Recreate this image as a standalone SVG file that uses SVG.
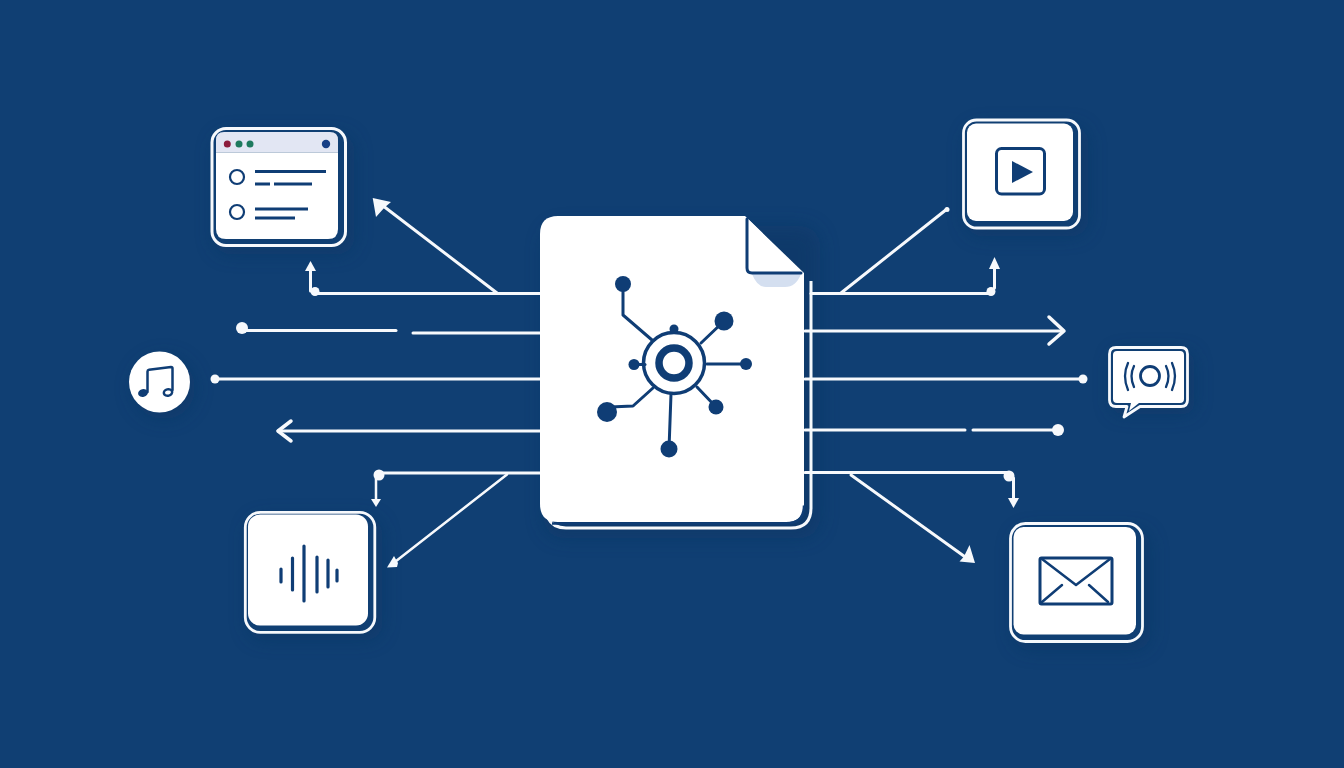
<svg xmlns="http://www.w3.org/2000/svg" width="1344" height="768" viewBox="0 0 1344 768">
<style>
.w{fill:none;stroke:#f7f9fc;stroke-width:3;stroke-linecap:round;stroke-linejoin:round}
.t{stroke-width:2.500}
.d{fill:#f7f9fc}
.edge{fill:none;stroke:#f7f9fc;stroke-width:3}
.n{fill:none;stroke:#0f3d75;stroke-width:3;stroke-linecap:round;stroke-linejoin:round}
.nf{fill:#0f3d75}
</style>
<defs>
<filter id="sh" x="-30%" y="-30%" width="160%" height="160%"><feGaussianBlur stdDeviation="9"/></filter>
</defs>
<rect id="bg" width="1344" height="768" fill="#103f73"/>
<g id="shadows" fill="#0c3562" opacity=".5" filter="url(#sh)">
<rect x="544" y="226" width="276" height="312" rx="20"/>
<rect x="214" y="134" width="140" height="120" rx="16"/>
<rect x="966" y="126" width="122" height="110" rx="16"/>
<rect x="248" y="518" width="134" height="122" rx="16"/>
<rect x="1014" y="530" width="136" height="120" rx="16"/>
<rect x="1112" y="352" width="82" height="62" rx="10"/>
<circle cx="164" cy="388" r="31"/>
</g>
<g id="connectors">
<path class="w" d="M540 293.500H316"/>
<path class="w" d="M314 291L310.500 291V270"/>
<path class="d" d="M310.500 261L316 271H305Z"/>
<circle class="d" cx="315" cy="291.500" r="4.500"/>
<path class="w" d="M497 293L378 202"/>
<path class="d" d="M372.700 198L391 202L384.500 207.500L376 217Z"/>
<path class="w" d="M245 330.500H396"/>
<circle class="d" cx="242" cy="328" r="6"/>
<path class="w" d="M413 333H540"/>
<path class="w" d="M215 379H540"/>
<circle class="d" cx="215" cy="379" r="4.500"/>
<path class="w" d="M278 431H540"/>
<path class="w" style="stroke-width:3.500" d="M291 421L278 431L291 441"/>
<path class="w" d="M380 473H540"/>
<circle class="d" cx="379" cy="475" r="5.500"/>
<path class="w t" d="M376 478V499"/>
<path class="d" d="M376 507L371 499H381Z"/>
<path class="w t" d="M507 474.500L391 565"/>
<path class="d" d="M387 567.500L394 556L398 563L397 567Z"/>
<path class="w" d="M811 293.500H990"/>
<circle class="d" cx="991" cy="291.500" r="4.500"/>
<path class="w" d="M994.500 288V268"/>
<path class="d" d="M994.500 257L1000 269H989Z"/>
<path class="w" d="M841 293L947 209"/>
<circle class="d" cx="947" cy="209.500" r="2.500"/>
<path class="w" d="M805 331H1063"/>
<path class="w" style="stroke-width:3.500" d="M1049 317L1064 331L1049 344"/>
<path class="w" d="M805 379H1083"/>
<circle class="d" cx="1083" cy="379" r="4.500"/>
<path class="w" d="M805 430H965"/>
<path class="w" d="M973 430H1055"/>
<circle class="d" cx="1058" cy="430" r="6"/>
<path class="w" d="M805 472.500H1008"/>
<circle class="d" cx="1009" cy="476" r="5.500"/>
<path class="w" d="M1013.500 478V499"/>
<path class="d" d="M1013.500 508L1008 498H1019Z"/>
<path class="w" d="M851 475L968 559"/>
<path class="d" d="M975 563L959.500 561.500L964 556.500L969.500 545Z"/>
</g>
<g id="document">
<path class="edge" d="M811 281V508Q811 528 791 528H566Q553 528 548 518"/>
<path d="M558 216H745L804 273V504Q804 522 786 522H558Q540 522 540 504V234Q540 216 558 216Z" fill="#fff"/>
<path d="M552 522H786Q804 522 804 504" fill="none" stroke="#0f3d75" stroke-width="2.500" transform="translate(0 1.500)"/>
<path d="M752 274H801Q796 287 785 287H766Q757 287 752 274Z" fill="#d4dff0"/>
<path d="M747 218L802 273H751Q747 273 747 269Z" fill="#fff"/>
<path d="M747 219V268Q747 273 752 273H801" fill="none" stroke="#0f3d75" stroke-width="3" stroke-linecap="round"/>
<g id="network">
<circle cx="674" cy="363" r="30.500" fill="none" stroke="#0f3d75" stroke-width="3.500"/>
<circle cx="674" cy="363" r="15" fill="none" stroke="#0f3d75" stroke-width="7.500"/>
<path class="n" d="M623 290V315L652 340"/>
<circle class="nf" cx="623" cy="284" r="8"/>
<path class="n" d="M701 343L722 323"/>
<circle class="nf" cx="724" cy="321" r="9.500"/>
<circle class="nf" cx="674" cy="329" r="4.500"/>
<path class="n" d="M634 364.500H645"/>
<circle class="nf" cx="634" cy="364.500" r="5.500"/>
<path class="n" d="M707 364H746"/>
<circle class="nf" cx="746" cy="364" r="6"/>
<path class="n" d="M697 387L716 407"/>
<circle class="nf" cx="716" cy="407" r="7.500"/>
<path class="n" d="M671 394L669 449"/>
<circle class="nf" cx="669" cy="449" r="8.500"/>
<path class="n" d="M610 407L633 406L653 388"/>
<circle class="nf" cx="607" cy="412" r="10"/>
</g>
</g>
<g id="node-window">
<rect x="212" y="128.500" width="133.500" height="117" rx="14" fill="#103f73" stroke="#f7f9fc" stroke-width="3"/>
<path d="M224 132H330Q338 132 338 140V152.500H216V140Q216 132 224 132Z" fill="#e2e6f3"/>
<path d="M216 152.500H338V229Q338 239 328 239H226Q216 239 216 229Z" fill="#fff"/>
<circle cx="227.300" cy="144" r="3.500" fill="#8c1c3c"/>
<circle cx="239" cy="144" r="3.500" fill="#1e7a5e"/>
<circle cx="250" cy="144" r="3.500" fill="#1e7a5e"/>
<circle cx="326" cy="144" r="4.200" fill="#173f86"/>
<circle cx="237" cy="177" r="7" fill="none" stroke="#0f3d75" stroke-width="2.200"/>
<circle cx="237" cy="212" r="7" fill="none" stroke="#0f3d75" stroke-width="2.200"/>
<path class="n" style="stroke-width:2.800;stroke-linecap:butt" d="M255 171.500H326M255 184H270M274 184H312M255 209H308M255 218H295"/>
</g>
<g id="node-video">
<rect x="963.500" y="120" width="116" height="108" rx="13" fill="#103f73" stroke="#f7f9fc" stroke-width="2.800"/>
<rect x="967" y="123.500" width="106" height="97.500" rx="9" fill="#fff"/>
<rect x="996.500" y="148.500" width="48" height="45.500" rx="5" fill="none" stroke="#0f3d75" stroke-width="3"/>
<path class="nf" d="M1012 161L1033 172L1012 183Z"/>
</g>
<g id="node-music">
<circle cx="159.500" cy="382" r="30.500" fill="#fff"/>
<path class="n" style="stroke-width:2.500" d="M147.500 392V371.500Q147.500 370 149 369.800L171 367Q172.500 367 172.500 368.500V390"/>
<ellipse class="nf" cx="143" cy="393" rx="5" ry="3.800" transform="rotate(-15 143 393)"/>
<ellipse cx="168" cy="392.500" rx="4.200" ry="3.200" fill="none" stroke="#0f3d75" stroke-width="2.500" transform="rotate(-15 168 392.500)"/>
</g>
<g id="node-broadcast">
<path d="M1116 347.500H1181Q1187.500 347.500 1187.500 354V400Q1187.500 406.500 1181 406.500H1140L1124 417L1127 406.500H1116Q1109.500 406.500 1109.500 400V354Q1109.500 347.500 1116 347.500Z" fill="#103f73" stroke="#f7f9fc" stroke-width="2.800" stroke-linejoin="round"/>
<path d="M1117 351H1180Q1184 351 1184 355V399Q1184 403 1180 403H1139L1129 411L1131 403H1117Q1113 403 1113 399V355Q1113 351 1117 351Z" fill="#fff"/>
<circle cx="1150" cy="376" r="9.500" fill="none" stroke="#0f3d75" stroke-width="2.800"/>
<path class="n" style="stroke-width:2.300" d="M1134 366Q1129 376 1134 387M1128 363Q1122 376 1128 390M1166 366Q1171 376 1166 387M1172 363Q1178 376 1172 390"/>
</g>
<g id="node-audio">
<rect x="245.300" y="512.300" width="129.500" height="120" rx="15" fill="#103f73" stroke="#f7f9fc" stroke-width="2.800"/>
<rect x="248" y="514.500" width="120" height="111" rx="12" fill="#fff"/>
<path class="n" style="stroke-width:3.200" d="M281 569V582M292.500 558V590M304 546V601M317 557V592M328 560V587M337 570V581"/>
</g>
<g id="node-mail">
<rect x="1010.500" y="523.500" width="132" height="118" rx="15" fill="#103f73" stroke="#f7f9fc" stroke-width="2.800"/>
<rect x="1013.500" y="527" width="122.500" height="107.500" rx="10" fill="#fff"/>
<rect x="1040" y="558" width="72" height="46" rx="1.500" fill="none" stroke="#0f3d75" stroke-width="3"/>
<path class="n" style="stroke-width:2.500" d="M1042 559L1076 585L1110 559M1042 602L1062 585M1108 602L1089 585"/>
</g>
</svg>
